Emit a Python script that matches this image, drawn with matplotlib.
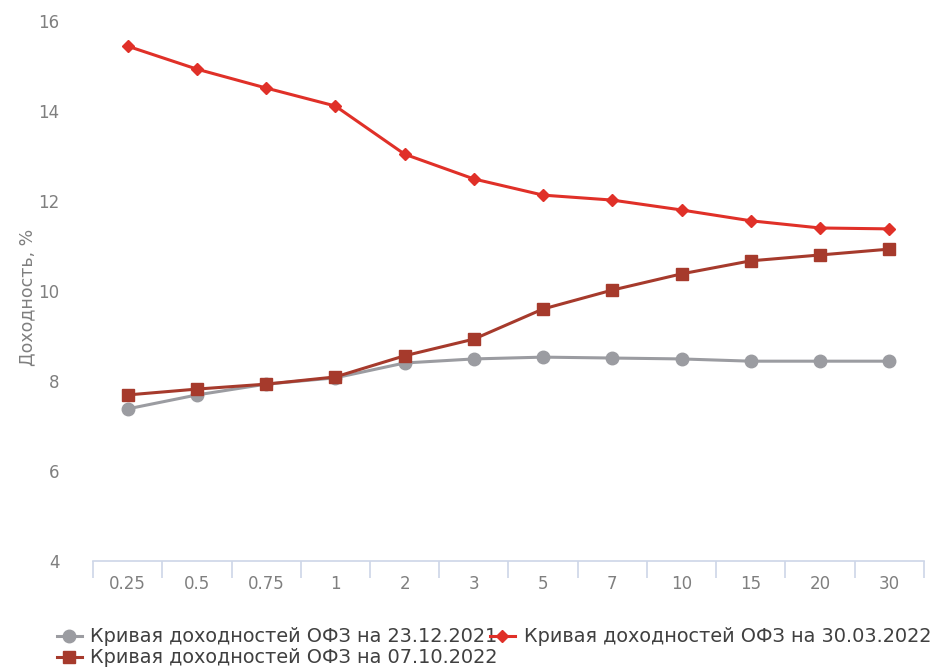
import matplotlib.pyplot as plt
import numpy as np

# сроки до погашения, лет
tenors = ["0.25", "0.5", "0.75", "1", "2", "3", "5", "7", "10", "15", "20", "30"]

# доходности, %
ofz_2021_12_23 = [7.38, 7.69, 7.93, 8.07, 8.40, 8.49, 8.53, 8.51, 8.49, 8.44, 8.44, 8.44]
ofz_2022_03_30 = [15.44, 14.93, 14.51, 14.11, 13.04, 12.49, 12.13, 12.02, 11.80, 11.56, 11.40, 11.38]
ofz_2022_10_07 = [7.69, 7.82, 7.93, 8.09, 8.56, 8.93, 9.60, 10.02, 10.38, 10.67, 10.80, 10.93]

labels = ["Кривая доходностей ОФЗ на 23.12.2021",
          "Кривая доходностей ОФЗ на 30.03.2022",
          "Кривая доходностей ОФЗ на 07.10.2022"]

plt.rcParams['font.family'] = ['DejaVu Sans']

fig = plt.figure(figsize=(9.36, 6.7), dpi=100)
ax = fig.add_axes([0.0994, 0.1627, 0.8876, 0.806])

x = np.arange(len(tenors))
l1, = ax.plot(x, ofz_2021_12_23, color="#9b9ca1", lw=2.2, marker="o", ms=9, label=labels[0])
l2, = ax.plot(x, ofz_2022_03_30, color="#e03028", lw=2.2, marker="D", ms=6.5, label=labels[1])
l3, = ax.plot(x, ofz_2022_10_07, color="#a63a2c", lw=2.2, marker="s", ms=9, label=labels[2])

ax.set_xlim(-0.5, len(tenors) - 0.5)
ax.set_ylim(4, 16)
ax.set_yticks([4, 6, 8, 10, 12, 14, 16])
ax.set_xticks(x)
ax.set_xticklabels(tenors)
ax.set_xticks(np.arange(-0.5, len(tenors)), minor=True)

for s in ["top", "right", "left"]:
    ax.spines[s].set_visible(False)
ax.spines["bottom"].set_color("#cdd6e8")
ax.spines["bottom"].set_linewidth(1.2)

ax.tick_params(axis="x", which="major", length=0, pad=10, labelsize=12, labelcolor="#7f7f7f")
ax.tick_params(axis="x", which="minor", length=12, width=1.2, color="#cdd6e8", direction="out")
ax.tick_params(axis="y", length=0, pad=24, labelsize=12, labelcolor="#7f7f7f")

ax.set_ylabel("Доходность, %", fontsize=12.5, color="#7f7f7f")
ax.yaxis.set_label_coords(-0.068, 0.489)

leg = fig.legend([l1, l3, l2], [labels[0], labels[2], labels[1]],
                 loc="lower left", bbox_to_anchor=(0.046, -0.016), ncol=2,
                 frameon=False, fontsize=13.85, handlelength=1.3, handletextpad=0.45,
                 columnspacing=-0.4, labelspacing=0.1, borderpad=0.2)
for t in leg.get_texts():
    t.set_color("#404040")

fig.savefig("out.png", dpi=100)
